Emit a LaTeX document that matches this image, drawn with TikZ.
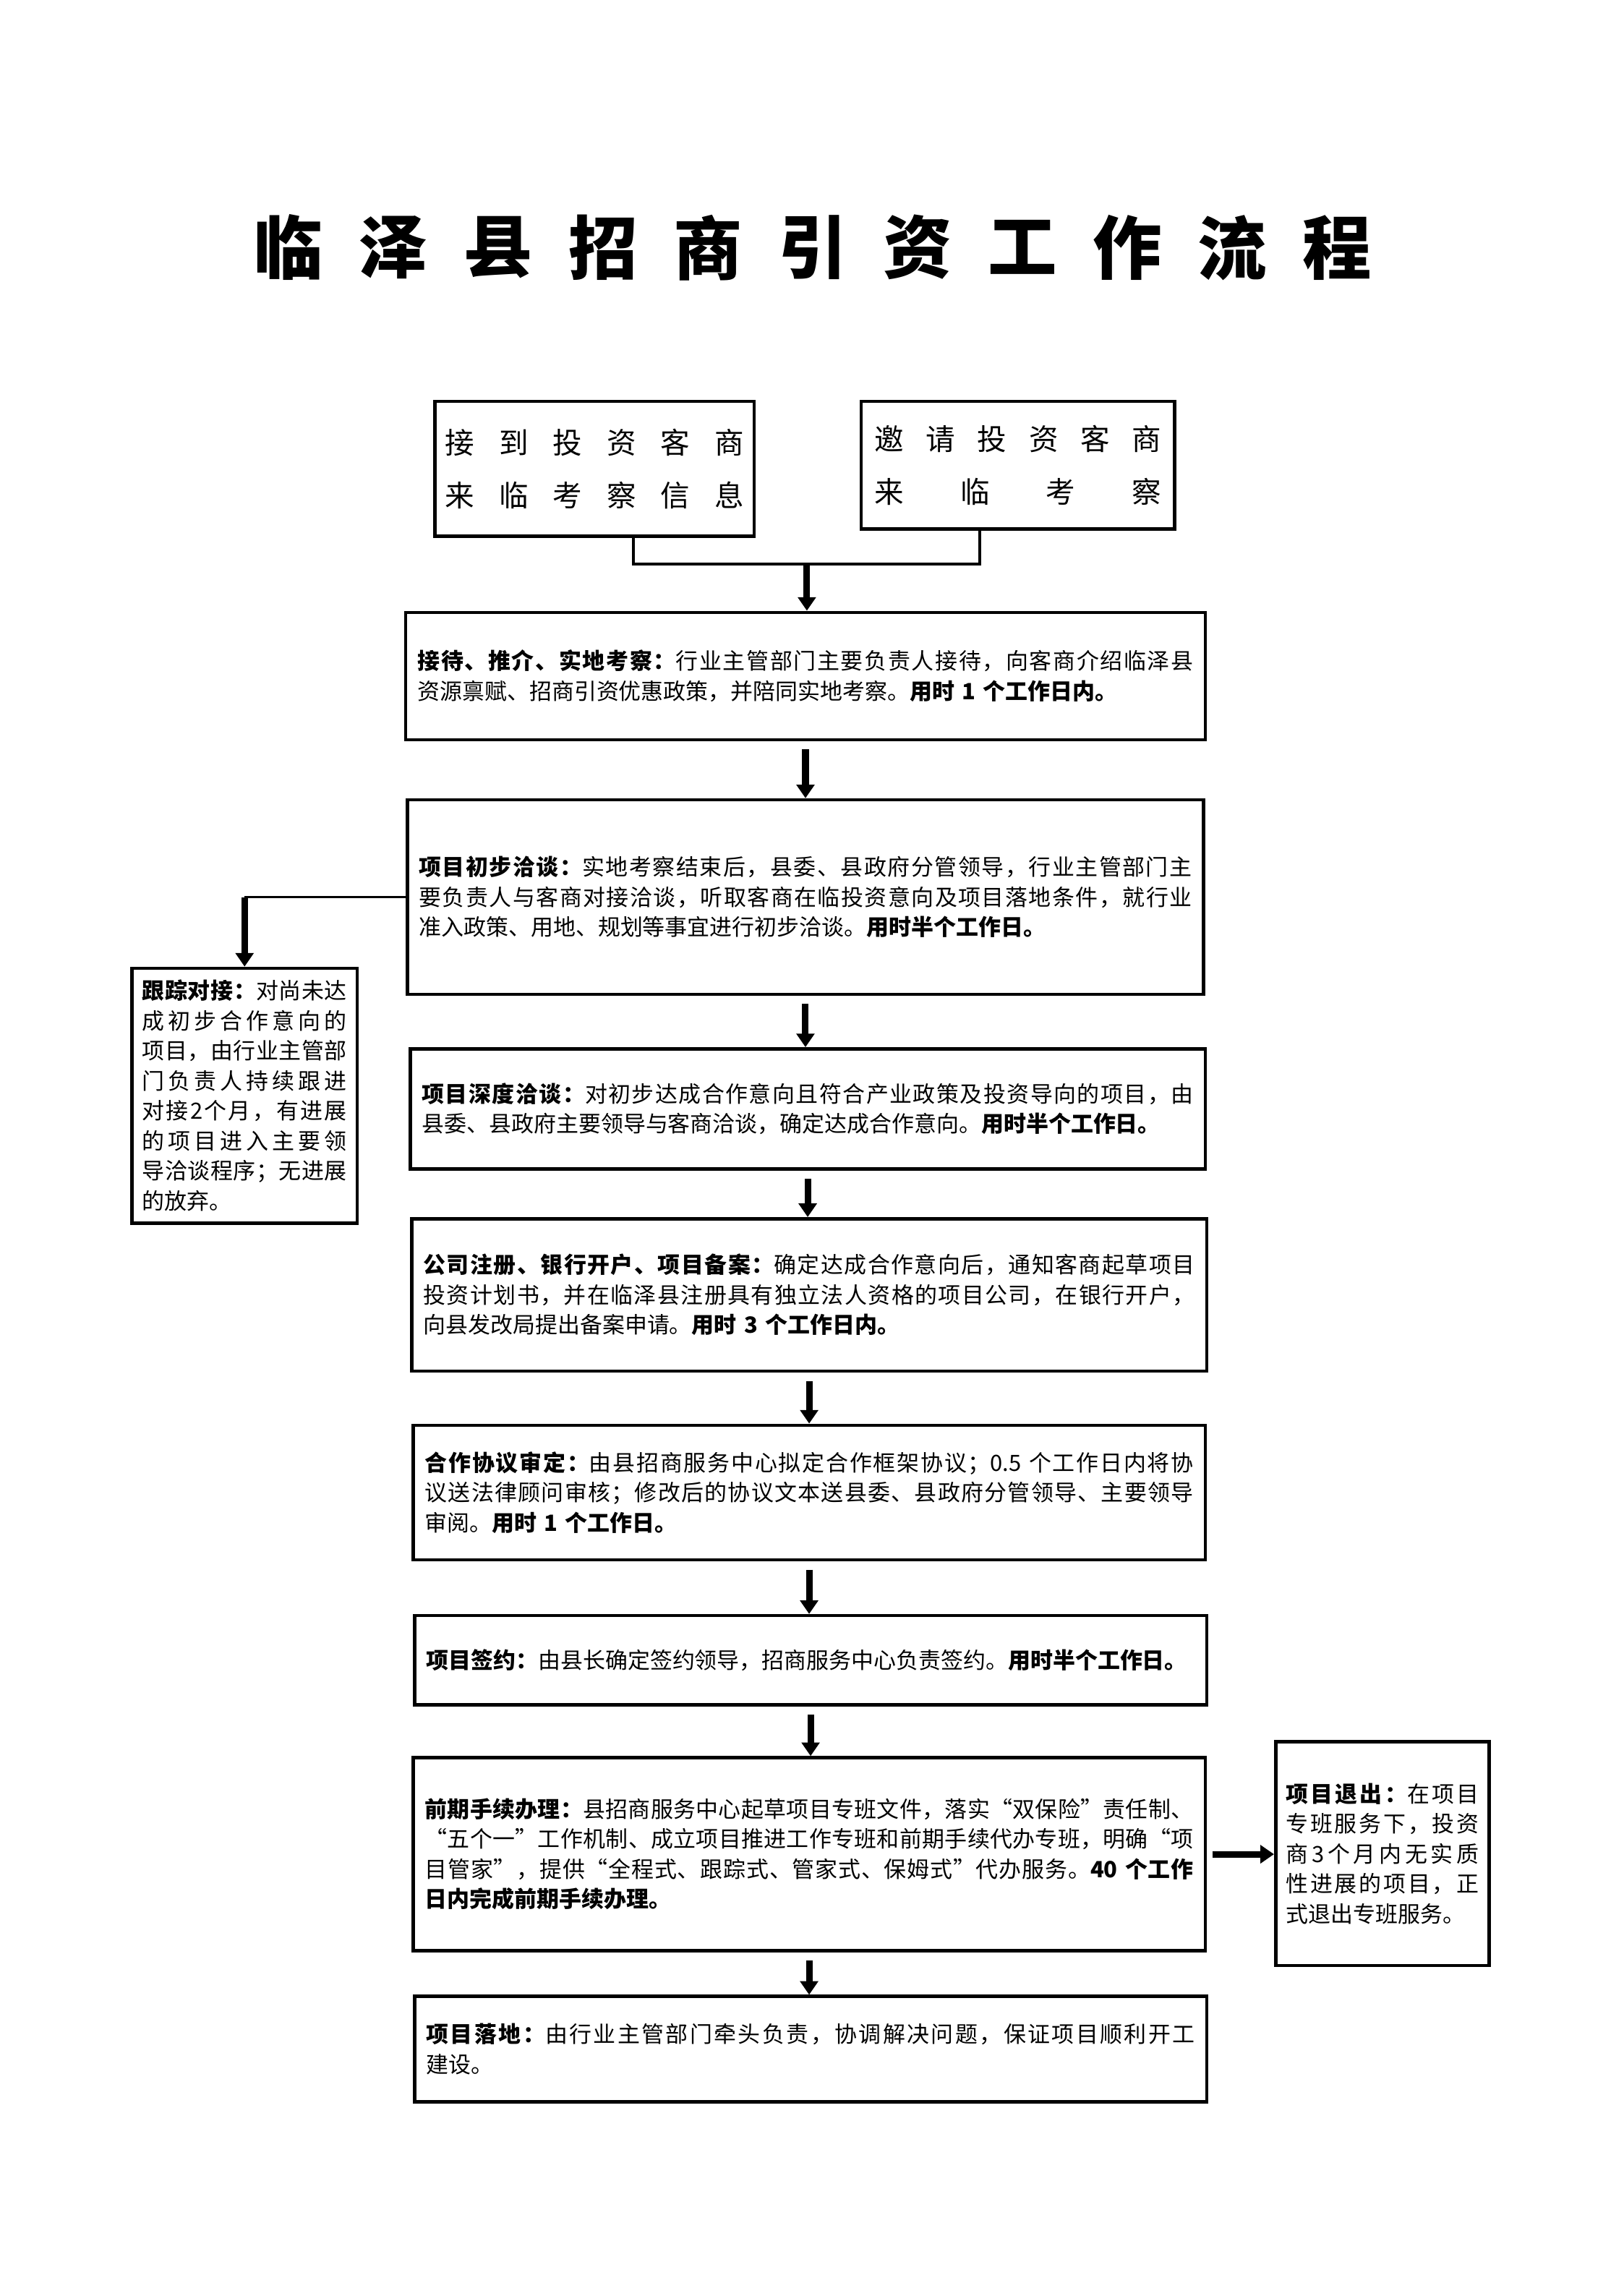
\documentclass[tikz,border=0pt]{standalone}
\usepackage{fontspec}
\setmainfont{Noto Sans CJK SC}
\usetikzlibrary{arrows.meta,calc}

% stretchable glue between CJK characters, so lines can be justified
\newXeTeXintercharclass\cjkcls
\newcount\cjkc
\cjkc="4E00
\loop \XeTeXcharclass\cjkc=\cjkcls \advance\cjkc by 1 \ifnum\cjkc<"A000 \repeat
\cjkc="3000
\loop \XeTeXcharclass\cjkc=\cjkcls \advance\cjkc by 1 \ifnum\cjkc<"3040 \repeat
\cjkc="FF00
\loop \XeTeXcharclass\cjkc=\cjkcls \advance\cjkc by 1 \ifnum\cjkc<"FF60 \repeat
\XeTeXcharclass"201C=\cjkcls
\XeTeXcharclass"201D=\cjkcls
\XeTeXinterchartoks\cjkcls\cjkcls={\hskip 0pt plus 1pt}
\XeTeXinterchartokenstate=1

% one justified line, one plain line
\newcommand\jline[1]{\makebox[\linewidth][s]{#1}}
\newcommand\eline[1]{\mbox{#1}}
\newcommand\cjkgap{\hskip 0pt plus 1pt}

\tikzset{
  stagebox/.style={draw, line width=1.2pt, anchor=north west, align=left,
    inner xsep=4.32pt, inner ysep=0pt, font=\fontsize{8.24pt}{11.05pt}\selectfont},
  topbox/.style={stagebox, font=\fontsize{10.8pt}{19.45pt}\selectfont},
  titlechar/.style={inner sep=0pt, font=\fontsize{25.4pt}{25.4pt}\selectfont\bfseries},
  bigarrow/.style={line width=2.4pt, -{Triangle[width=6.5pt,length=5pt]}},
  thinline/.style={line width=1pt},
}

\begin{document}
\begin{tikzpicture}[x=0.018945cm,y=-0.018945cm]
  \useasboundingbox (0,0) rectangle (1108.5,1567.7);

  % title
  \foreach \ch [count=\i] in {临,泽,县,招,商,引,资,工,作,流,程}
    \node[titlechar] (t\i) at ({197+71.6*(\i-1)},169) {\ch};

  % two sources
  \node[topbox, text width=109.9pt, inner xsep=3.77pt, minimum height=49.6pt] (ta) at (296,273)
    {\jline{接\hfill 到\hfill 投\hfill 资\hfill 客\hfill 商}\\
     \jline{来\hfill 临\hfill 考\hfill 察\hfill 信\hfill 息}};
  \node[topbox, text width=105.7pt, inner xsep=4.86pt, minimum height=46.9pt] (tb) at (587,273)
    {\jline{邀\hfill 请\hfill 投\hfill 资\hfill 客\hfill 商}\\
     \jline{来\hfill 临\hfill 考\hfill 察}};

  % main steps
  \node[stagebox, text width=285.7pt, minimum height=46.9pt] (s1) at (276,417)
    {\jline{{\bfseries 接待、推介、实地考察：}行业主管部门主要负责人接待，向客商介绍临泽县}\\
     \eline{资源禀赋、招商引资优惠政策，并陪同实地考察。{\bfseries 用时 1 个工作日内。}}};
  \node[stagebox, text width=284.6pt, minimum height=71.6pt] (s2) at (277,545)
    {\jline{{\bfseries 项目初步洽谈：}实地考察结束后，县委、县政府分管领导，行业主管部门主}\\
     \jline{要负责人与客商对接洽谈，听取客商在临投资意向及项目落地条件，就行业}\\
     \eline{准入政策、用地、规划等事宜进行初步洽谈。{\bfseries 用时半个工作日。}}};
  \node[stagebox, text width=284.1pt, minimum height=44.2pt] (s3) at (279,715)
    {\jline{{\bfseries 项目深度洽谈：}对初步达成合作意向且符合产业政策及投资导向的项目，由}\\
     \eline{县委、县政府主要领导与客商洽谈，确定达成合作意向。{\bfseries 用时半个工作日。}}};
  \node[stagebox, text width=284.1pt, minimum height=56.1pt] (s4) at (280,831)
    {\jline{{\bfseries 公司注册、银行开户、项目备案：}确定达成合作意向后，通知客商起草项目}\\
     \jline{投资计划书，并在临泽县注册具有独立法人资格的项目公司，在银行开户，}\\
     \eline{向县发改局提出备案申请。{\bfseries 用时 3 个工作日内。}}};
  \node[stagebox, text width=283pt, minimum height=49.6pt] (s5) at (281,972)
    {\jline{{\bfseries 合作协议审定：}由县招商服务中心拟定合作框架协议；0.5 个工作日内将协}\\
     \jline{议送法律顾问审核；修改后的协议文本送县委、县政府分管领导、主要领导}\\
     \eline{审阅。{\bfseries 用时 1 个工作日。}}};
  \node[stagebox, text width=283pt, minimum height=32.8pt] (s6) at (282,1102)
    {\eline{{\bfseries 项目签约：}由县长确定签约领导，招商服务中心负责签约。{\bfseries 用时半个工作日。}}};
  \node[stagebox, text width=283pt, minimum height=71.1pt] (s7) at (281,1199)
    {\jline{{\bfseries 前期手续办理：}县招商服务中心起草项目专班文件，落实“双保险”责任制、}\\
     \jline{“五个一”工作机制、成立项目推进工作专班和前期手续代办专班，明确“项}\\
     \jline{目管家”，提供“全程式、跟踪式、管家式、保姆式”代办服务。{\bfseries 40 个工作}}\\
     \eline{{\bfseries 日内完成前期手续办理。}}};
  \node[stagebox, text width=283pt, minimum height=38.8pt] (s8) at (282,1362)
    {\jline{{\bfseries 项目落地：}由行业主管部门牵头负责，协调解决问题，保证项目顺利开工}\\
     \eline{建设。}};

  % side boxes
  \node[stagebox, text width=75.4pt, inner xsep=3.77pt, minimum height=93.8pt] (track) at (89,660)
    {\jline{{\bfseries 跟踪对接：}对尚未达}\\
     \jline{成初步合作意向的}\\
     \jline{项目，由行业主管部}\\
     \jline{门负责人持续跟进}\\
     \jline{对接\cjkgap 2\cjkgap 个月，有进展}\\
     \jline{的项目进入主要领}\\
     \jline{导洽谈程序；无进展}\\
     \eline{的放弃。}};
  \node[stagebox, text width=71.1pt, inner xsep=3.77pt, minimum height=82.5pt] (quit) at (870,1188)
    {\jline{{\bfseries 项目退出：}在项目}\\
     \jline{专班服务下，投资}\\
     \jline{商\cjkgap 3\cjkgap 个月内无实质}\\
     \jline{性进展的项目，正}\\
     \eline{式退出专班服务。}};

  % connectors
  \coordinate (ja) at ($(ta.south west)!0.62!(ta.south east)$);
  \coordinate (jb) at ($(tb.south west)!0.38!(tb.south east)$);
  \coordinate (merge) at (551,385);
  \draw[thinline] (ja) |- (merge) -| (jb);
  \draw[bigarrow] (merge) -- (merge |- s1.north);

  \foreach \a/\b in {s1/s2,s2/s3,s3/s4,s4/s5,s5/s6,s6/s7,s7/s8}
    \draw[bigarrow, shorten <=3pt] (\a.south) -- (\a.south |- \b.north);

  \coordinate (bend) at (s2.west -| track.north);
  \draw[thinline] (s2.west) -- (bend);
  \draw[bigarrow] (bend) -- (track.north);

  \draw[bigarrow, shorten <=2pt] (s7.east) -- (s7.east -| quit.west);
\end{tikzpicture}
\end{document}
